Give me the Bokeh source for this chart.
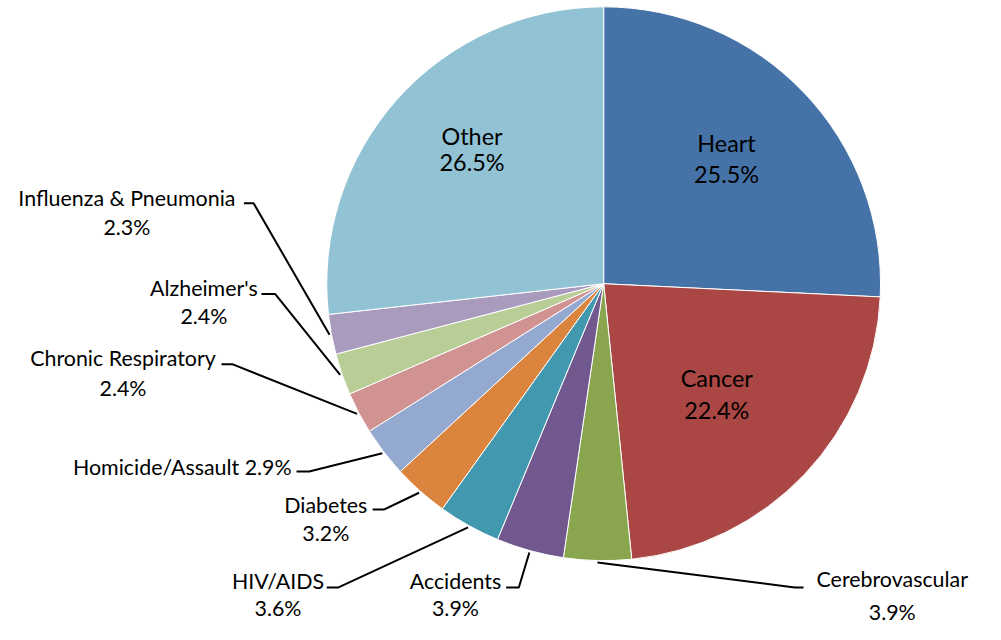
import numpy as np
from bokeh.plotting import figure
from bokeh.models import Range1d
from bokeh.core.properties import value
from bokeh.embed import file_html
from bokeh.resources import INLINE

# ---- data ----
causes = ["Heart", "Cancer", "Cerebrovascular", "Accidents", "HIV/AIDS", "Diabetes",
          "Homicide/Assault", "Chronic Respiratory", "Alzheimer's",
          "Influenza & Pneumonia", "Other"]
shares = [25.5, 22.4, 3.9, 3.9, 3.6, 3.2, 2.9, 2.4, 2.4, 2.3, 26.5]
colors = ["#4572A7", "#AA4643", "#89A54E", "#71588F", "#4198AF", "#DB843D",
          "#93A9CF", "#D19392", "#B9CD96", "#A99BBD", "#92C3D4"]

# ---- layout (reference pixel coordinates, y downward, 1001x640 design) ----
W, H = 985, 624
S = H / 640.0                      # uniform scale of the design into the canvas
CX, CY, R = 614, 290.5, 284
FONT = "Lato"
OUT_SIZE, IN_SIZE = 22 * S, 24 * S

def fy(Y):
    return 640 - Y

# inside labels: index -> (center x, name center y, pct center y)
inside = {0: (740, 146, 178), 1: (730, 387.5, 420), 10: (479, 138.5, 166)}
# outside labels: index -> (elbow x, elbow y, tail x, text x, name y, pct y, align)
outside = {
    2: (810, 602, 819, 910, 593, 627, "center"),
    3: (527, 602, 514, 462, 595, 623, "center"),
    4: (342, 602, 330, 280, 595, 623, "center"),
    5: (389, 522, 377, 329, 517, 546, "center"),
    6: (312, 483, 299, 294, 478, None, "right"),
    7: (233, 373, 222, 121, 367, 397, "center"),
    8: (277, 301, 263, 204, 295, 324, "center"),
    9: (255, 208, 245, 125, 203, 232, "center"),
}

xw = W / S
p = figure(width=W, height=H, x_range=Range1d(500.5 - xw / 2, 500.5 + xw / 2),
           y_range=Range1d(0, 640), output_backend="svg", toolbar_location=None,
           min_border=0)
p.axis.visible = False
p.grid.visible = False
p.outline_line_color = None
p.background_fill_color = "white"

vals = np.array(shares, dtype=float)
total = vals.sum()
cum = np.cumsum(vals)
start = np.pi / 2 - 2 * np.pi * (cum - vals) / total
end = np.pi / 2 - 2 * np.pi * cum / total
mid = (start + end) / 2

p.wedge(x=CX, y=fy(CY), radius=R, start_angle=list(start), end_angle=list(end),
        direction="clock", fill_color=colors, line_color="white", line_width=1)

def txt(x, y_center, s, size, align):
    p.text(x=[x], y=[fy(y_center)], text=[s], text_font=value(FONT),
           text_font_size=f"{size:.1f}px", text_align=align, text_baseline="middle",
           text_color="black")

for i, (x, yn, yp) in inside.items():
    txt(x, yn, causes[i], IN_SIZE, "center")
    txt(x, yp, f"{shares[i]:.1f}%", IN_SIZE, "center")

xs, ys = [], []
for i, (ex, ey, tx, lx, yn, yp, al) in outside.items():
    px = CX + (R + 2) * np.cos(mid[i])
    py = fy(CY) + (R + 2) * np.sin(mid[i])
    xs.append([px, ex, tx])
    ys.append([py, fy(ey), fy(ey)])
    if yp is None:
        txt(lx, yn, f"{causes[i]} {shares[i]:.1f}%", OUT_SIZE, al)
    else:
        txt(lx, yn, causes[i], OUT_SIZE, al)
        txt(lx, yp, f"{shares[i]:.1f}%", OUT_SIZE, al)

p.multi_line(xs=xs, ys=ys, line_color="black", line_width=2)

open("out.html", "w").write(file_html(p, INLINE))
